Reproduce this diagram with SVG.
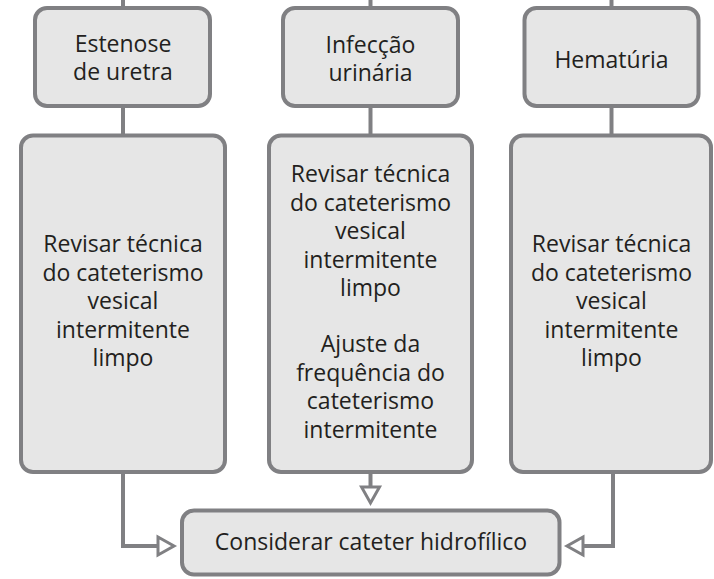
<svg xmlns="http://www.w3.org/2000/svg" width="714" height="579" viewBox="0 0 714 579">
<defs>
<style>
.box{fill:#e6e6e6;stroke:#808083;stroke-width:4}
.ln{fill:none;stroke:#808083;stroke-width:4}
.t{font-family:"Open Sans","Noto Sans",sans-serif;font-size:23px;fill:#231f20;text-anchor:middle}
</style>
<marker id="ah" viewBox="0 0 24 24" markerWidth="24" markerHeight="24" refX="3" refY="12" orient="auto" markerUnits="userSpaceOnUse">
<path d="M3,3 L19,12 L3,21 Z" fill="#fff" stroke="#808083" stroke-width="3" stroke-linejoin="miter"/>
</marker>
</defs>
<g id="connectors">
<path class="ln" d="M123,0 V8"/>
<path class="ln" d="M370.5,0 V8"/>
<path class="ln" d="M611.5,0 V8"/>
<path class="ln" d="M123,105 V136"/>
<path class="ln" d="M370.5,105 V136"/>
<path class="ln" d="M611.5,105 V136"/>
<path class="ln" d="M123,472 V546 H158" marker-end="url(#ah)"/>
<path class="ln" d="M370.5,472 V487" marker-end="url(#ah)"/>
<path class="ln" d="M613,472 V546 H583" marker-end="url(#ah)"/>
</g>
<g id="n-estenose">
<rect class="box" x="35" y="8" width="175" height="98" rx="12"/>
<text class="t" x="123" y="52">Estenose</text>
<text class="t" x="123" y="80">de uretra</text>
</g>
<g id="n-infeccao">
<rect class="box" x="283" y="8" width="175" height="98" rx="12"/>
<text class="t" x="370.5" y="53">Infecção</text>
<text class="t" x="370.5" y="81">urinária</text>
</g>
<g id="n-hematuria">
<rect class="box" x="524.5" y="8" width="174" height="98" rx="12"/>
<text class="t" x="611.5" y="68">Hematúria</text>
</g>
<g id="n-revisar1">
<rect class="box" x="21" y="135.5" width="204" height="336.5" rx="12"/>
<text class="t" x="123" y="252">Revisar técnica</text>
<text class="t" x="123" y="280.5">do cateterismo</text>
<text class="t" x="123" y="309">vesical</text>
<text class="t" x="123" y="337.5">intermitente</text>
<text class="t" x="123" y="366">limpo</text>
</g>
<g id="n-revisar2">
<rect class="box" x="269" y="135.5" width="203" height="336.5" rx="12"/>
<text class="t" x="370.5" y="182">Revisar técnica</text>
<text class="t" x="370.5" y="210.5">do cateterismo</text>
<text class="t" x="370.5" y="239">vesical</text>
<text class="t" x="370.5" y="267.5">intermitente</text>
<text class="t" x="370.5" y="296">limpo</text>
<text class="t" x="370.5" y="352">Ajuste da</text>
<text class="t" x="370.5" y="380.5">frequência do</text>
<text class="t" x="370.5" y="409">cateterismo</text>
<text class="t" x="370.5" y="437.5">intermitente</text>
</g>
<g id="n-revisar3">
<rect class="box" x="511" y="135.5" width="200" height="336.5" rx="12"/>
<text class="t" x="611.5" y="252">Revisar técnica</text>
<text class="t" x="611.5" y="280.5">do cateterismo</text>
<text class="t" x="611.5" y="309">vesical</text>
<text class="t" x="611.5" y="337.5">intermitente</text>
<text class="t" x="611.5" y="366">limpo</text>
</g>
<g id="n-considerar">
<rect class="box" x="182" y="510.5" width="377.5" height="64" rx="12"/>
<text class="t" x="371" y="550">Considerar cateter hidrofílico</text>
</g>
</svg>
